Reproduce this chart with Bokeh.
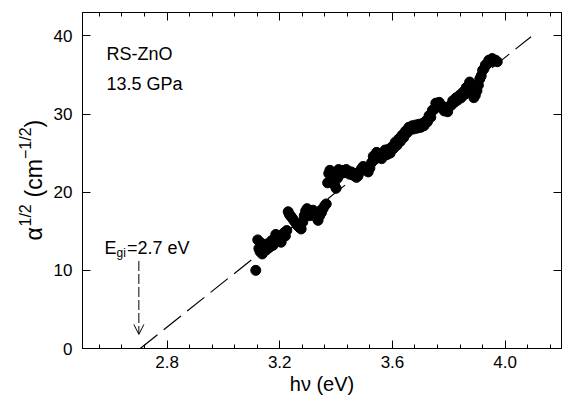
import math
from bokeh.plotting import figure
from bokeh.layouts import row
from bokeh.models import (FixedTicker, LinearAxis, Label, Arrow, OpenHead, Range1d,
                          PrintfTickFormatter)
from bokeh.embed import file_html
from bokeh.resources import INLINE

# ---------------- data ----------------
hv = [3.115, 3.122, 3.126, 3.130, 3.134, 3.138, 3.142, 3.147, 3.152, 3.157,
      3.162, 3.166, 3.171, 3.176, 3.181, 3.186, 3.190, 3.195, 3.200, 3.205,
      3.210, 3.215, 3.220, 3.225,
      3.230, 3.235, 3.240, 3.246, 3.252, 3.258, 3.264, 3.270, 3.276, 3.282,
      3.287, 3.292, 3.297, 3.302, 3.307, 3.312, 3.318, 3.324, 3.330, 3.336,
      3.342, 3.348, 3.354, 3.360, 3.365,
      3.370, 3.374, 3.378, 3.382, 3.386, 3.390, 3.395, 3.400, 3.405, 3.409,
      3.414, 3.419, 3.424, 3.430, 3.436, 3.442, 3.448, 3.454, 3.460, 3.466,
      3.472, 3.478, 3.484, 3.490, 3.496, 3.502, 3.508, 3.514, 3.520, 3.526,
      3.532, 3.538, 3.544, 3.550, 3.556, 3.562, 3.568, 3.574, 3.580, 3.586,
      3.592, 3.598, 3.604, 3.610, 3.616, 3.622, 3.628, 3.634, 3.640, 3.646,
      3.652, 3.658, 3.664, 3.670, 3.676, 3.682, 3.688, 3.694, 3.700, 3.706,
      3.712, 3.718, 3.724, 3.730, 3.736, 3.742, 3.748, 3.754, 3.760, 3.766,
      3.772, 3.778, 3.784, 3.790, 3.796, 3.802, 3.808, 3.814, 3.820, 3.826,
      3.832, 3.838, 3.844, 3.850, 3.856, 3.862, 3.868, 3.874, 3.879, 3.884,
      3.889, 3.894, 3.900, 3.905, 3.910, 3.915, 3.920, 3.925, 3.930, 3.936,
      3.942, 3.948, 3.954, 3.960, 3.966, 3.972]
alpha_sqrt = [10.0, 13.9, 12.8, 12.4, 13.5, 12.1, 12.7, 13.1, 12.6, 13.4,
              12.9, 13.3, 13.8, 13.2, 14.0, 14.6, 14.1, 13.7, 14.3, 13.6,
              14.2, 14.8, 14.4, 15.1,
              17.5, 17.1, 16.9, 16.6, 16.3, 16.0, 15.7, 15.5, 15.3, 16.2,
              17.0, 17.6, 17.9, 17.4, 17.0, 17.5, 17.7, 17.2, 16.8, 16.4,
              17.0, 17.4, 17.9, 18.3, 18.5,
              21.2, 22.4, 22.8, 21.6, 22.3, 21.4, 20.9, 20.5, 21.8, 22.9,
              22.6, 22.4, 22.8, 22.5, 22.9, 22.7, 22.3, 22.6, 22.2, 22.4,
              21.9, 22.1, 22.6, 23.0, 23.3, 23.0, 22.8, 22.6, 23.1, 23.8,
              24.6, 24.2, 25.1, 24.5, 24.9, 24.3, 25.0, 25.4, 24.8, 25.5,
              25.0, 25.8, 25.6, 26.4, 26.0, 26.8, 26.5, 27.3, 27.0, 27.8,
              27.6, 28.3, 28.0, 28.5, 28.1, 28.6, 28.2, 28.7, 28.3, 28.8,
              28.5, 29.1, 29.0, 29.8, 29.6, 30.5, 30.6, 31.4, 31.2, 31.5,
              30.9, 31.0, 30.4, 30.7, 30.3, 31.0, 31.1, 31.7, 31.5, 32.1,
              31.8, 32.4, 32.1, 32.8, 32.5, 33.4, 33.5, 34.1, 33.3, 32.8,
              32.1, 32.4, 33.0, 33.7, 34.5, 34.9, 35.6, 35.8, 36.3, 36.4,
              36.9, 36.7, 37.1, 36.8, 36.9, 36.7]

# linear extrapolation to the gap energy
fit_x = [2.705, 4.092]
fit_y = [0.0, 39.9]
gap_energy = 2.7
gap_arrow_y = [11.2, 1.8]

x_major = [2.8, 3.2, 3.6, 4.0]
x_minor = [2.56, 2.64, 2.72, 2.80, 2.88, 2.96, 3.04, 3.12, 3.20, 3.28, 3.36,
           3.44, 3.52, 3.60, 3.68, 3.76, 3.84, 3.92, 4.00, 4.08, 4.16]
y_major = [0, 10, 20, 30, 40]

FONT = "Liberation Sans"
H = 410
LW = 50  # width of the strip holding the y-axis title
BT, BB = 12, 62  # top / bottom borders shared by both panels

p = figure(width=562 - LW, height=H, x_range=Range1d(2.5, 4.2), y_range=Range1d(0, 43),
           output_backend="svg", toolbar_location=None,
           min_border_left=79 - LW, min_border_right=1, min_border_top=BT,
           min_border_bottom=BB)
p.xgrid.visible = False
p.ygrid.visible = False
p.outline_line_color = "black"
p.background_fill_color = "white"
p.border_fill_color = "white"

def style_axis(ax, ticks, minor, labels=True):
    ax.ticker = FixedTicker(ticks=ticks, minor_ticks=minor)
    ax.axis_line_color = "black"
    ax.axis_line_width = 1
    ax.major_tick_line_color = "black"
    ax.minor_tick_line_color = "black"
    ax.major_tick_in = 8
    ax.major_tick_out = 0
    ax.minor_tick_in = 4
    ax.minor_tick_out = 0
    if labels:
        ax.major_label_text_font = FONT
        ax.major_label_text_font_size = "17px"
        ax.major_label_text_color = "black"
    else:
        ax.major_label_text_color = None
        ax.major_label_text_font_size = "0px"
        ax.major_label_standoff = 0

style_axis(p.xaxis[0], x_major, x_minor)
style_axis(p.yaxis[0], y_major, [])
p.xaxis[0].formatter = PrintfTickFormatter(format="%.1f")
p.xaxis[0].major_label_standoff = 7
p.yaxis[0].major_label_standoff = 10
p.xaxis[0].axis_label = "hν (eV)"
p.xaxis[0].axis_label_text_font = FONT
p.xaxis[0].axis_label_text_font_size = "20px"
p.xaxis[0].axis_label_text_font_style = "normal"
p.xaxis[0].axis_label_text_color = "black"
p.xaxis[0].axis_label_standoff = 2

top = LinearAxis()
style_axis(top, x_major, x_minor, labels=False)
p.add_layout(top, "above")
right = LinearAxis()
style_axis(right, y_major, [], labels=False)
p.add_layout(right, "right")

# fitted dashed line
p.line(fit_x, fit_y, line_color="black", line_width=1.2, line_dash="22 8")

# data
p.scatter(hv, alpha_sqrt, size=10, fill_color="black", line_color="black")

# arrow to the gap
p.add_layout(Arrow(end=OpenHead(size=10, line_color="black", line_width=1),
                   x_start=gap_energy, y_start=gap_arrow_y[0],
                   x_end=gap_energy, y_end=gap_arrow_y[1],
                   line_color="black", line_width=1, line_dash="10 3"))

def lab(fig, text, x, y, size, angle=0.0):
    fig.add_layout(Label(x=x, y=y, x_units="screen", y_units="screen", text=text,
                         text_font=FONT, text_font_size=f"{size}px", text_color="black",
                         text_align="left", text_baseline="alphabetic", angle=angle))

# sample annotations (screen units, relative to the frame's bottom-left)
lab(p, "RS-ZnO", 24, 295, 18)
lab(p, "13.5 GPa", 24, 265, 18)

# E_gi label
lab(p, "E", 22, 101, 18)
lab(p, "gi", 34, 96, 12)
lab(p, "=2.7 eV", 44.5, 101, 18)

# ---- strip with the rotated y-axis title: alpha^{1/2} (cm^{-1/2}) ----
t = figure(width=LW, height=H, x_range=Range1d(0, 1), y_range=Range1d(0, 1),
           output_backend="svg", toolbar_location=None,
           x_axis_type=None, y_axis_type=None,
           min_border_left=0, min_border_right=0, min_border_top=BT, min_border_bottom=BB)
t.outline_line_color = None
t.xgrid.visible = False
t.ygrid.visible = False
t.border_fill_color = "white"
t.background_fill_color = "white"

main, sup = 23, 16
bx, sx = 33, 25
rot = math.pi / 2
lab(t, "α", bx, 108, main, rot)
lab(t, "1/2", sx, 122, sup, rot)
lab(t, "(cm", bx, 151, main, rot)
lab(t, "−1/2", sx, 189.5, sup, rot)
lab(t, ")", bx, 221, main, rot)

layout = row(t, p, spacing=0)
open("out.html", "w").write(file_html(layout, INLINE))
